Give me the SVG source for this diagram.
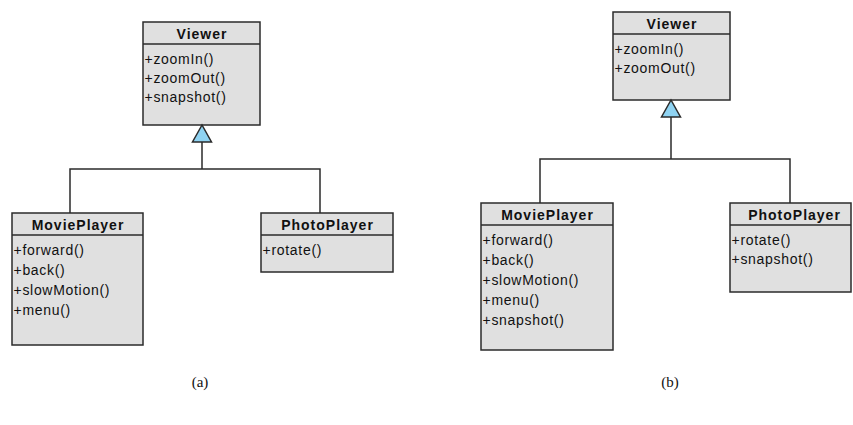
<svg xmlns="http://www.w3.org/2000/svg" width="853" height="425" viewBox="0 0 853 425">
  <style>
    .box { fill: #e0e0e0; stroke: #2b2b2b; stroke-width: 1.5; }
    .sep { stroke: #2b2b2b; stroke-width: 1.5; }
    .name { font-family: "Liberation Sans", Arial, sans-serif; font-size: 14px; font-weight: bold; letter-spacing: 1px; fill: #111; text-anchor: middle; }
    .op { font-family: "Liberation Sans", Arial, sans-serif; font-size: 14px; letter-spacing: 0.7px; fill: #111; }
    .wire { fill: none; stroke: #2b2b2b; stroke-width: 1.5; }
    .gen { fill: #8fd3f2; stroke: #2b2b2b; stroke-width: 1.5; stroke-linejoin: miter; }
    .cap { font-family: "Liberation Serif", "Times New Roman", serif; font-size: 15px; fill: #111; text-anchor: middle; }
  </style>

  <!-- (a) -->
  <g id="viewer-a">
    <rect class="box" x="143" y="22" width="117" height="103"/>
    <line class="sep" x1="143" y1="44" x2="260" y2="44"/>
    <text class="name" x="202" y="39">Viewer</text>
    <text class="op" x="144.5" y="64">+zoomIn()</text>
    <text class="op" x="144.5" y="83">+zoomOut()</text>
    <text class="op" x="144.5" y="102">+snapshot()</text>
  </g>
  <g id="movieplayer-a">
    <rect class="box" x="12" y="213" width="131" height="132"/>
    <line class="sep" x1="12" y1="235" x2="143" y2="235"/>
    <text class="name" x="78" y="230">MoviePlayer</text>
    <text class="op" x="13.5" y="255">+forward()</text>
    <text class="op" x="13.5" y="275">+back()</text>
    <text class="op" x="13.5" y="295">+slowMotion()</text>
    <text class="op" x="13.5" y="315">+menu()</text>
  </g>
  <g id="photoplayer-a">
    <rect class="box" x="261" y="213" width="132" height="59"/>
    <line class="sep" x1="261" y1="235" x2="393" y2="235"/>
    <text class="name" x="327.5" y="230">PhotoPlayer</text>
    <text class="op" x="262.5" y="255">+rotate()</text>
  </g>

  <!-- (b) -->
  <g id="viewer-b">
    <rect class="box" x="613" y="12" width="117" height="88"/>
    <line class="sep" x1="613" y1="34" x2="730" y2="34"/>
    <text class="name" x="672" y="29">Viewer</text>
    <text class="op" x="614.5" y="54">+zoomIn()</text>
    <text class="op" x="614.5" y="73">+zoomOut()</text>
  </g>
  <g id="movieplayer-b">
    <rect class="box" x="481" y="203" width="132" height="147"/>
    <line class="sep" x1="481" y1="225" x2="613" y2="225"/>
    <text class="name" x="547.5" y="220">MoviePlayer</text>
    <text class="op" x="482.5" y="245">+forward()</text>
    <text class="op" x="482.5" y="265">+back()</text>
    <text class="op" x="482.5" y="285">+slowMotion()</text>
    <text class="op" x="482.5" y="305">+menu()</text>
    <text class="op" x="482.5" y="325">+snapshot()</text>
  </g>
  <g id="photoplayer-b">
    <rect class="box" x="730" y="203" width="121" height="89"/>
    <line class="sep" x1="730" y1="225" x2="851" y2="225"/>
    <text class="name" x="794.5" y="220">PhotoPlayer</text>
    <text class="op" x="731.5" y="245">+rotate()</text>
    <text class="op" x="731.5" y="264">+snapshot()</text>
  </g>

  <!-- generalization connectors -->
  <g id="connectors">
    <path class="wire" d="M202,142 V169 M70,213 V169 H320 V213"/>
    <polygon class="gen" points="202,125 192.5,142 211.5,142"/>
    <path class="wire" d="M671,117 V159 M540,203 V159 H790 V203"/>
    <polygon class="gen" points="671,100 661.5,117 680.5,117"/>
  </g>

  <text class="cap" x="200" y="387">(a)</text>
  <text class="cap" x="670" y="387">(b)</text>
</svg>
